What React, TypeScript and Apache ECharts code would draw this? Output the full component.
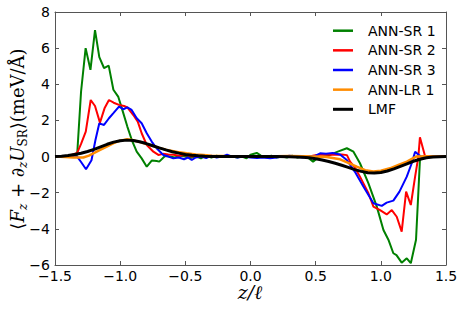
import React, { useEffect, useRef } from "react";
import * as echarts from "echarts";

const seriesNames = ["ANN-SR 1", "ANN-SR 2", "ANN-SR 3", "ANN-LR 1", "LMF"];
const seriesColors = ["#008000", "#ff0000", "#0000ff", "#ff8c00", "#000000"];
const xTicks = [-1.5, -1.0, -0.5, 0.0, 0.5, 1.0, 1.5];
const yTicks = [-6, -4, -2, 0, 2, 4, 6, 8];

const annSr1: [number, number][] = [
  [-1.5, 0], [-1.45, 0.0], [-1.4, 0.02], [-1.36, 0.03], [-1.33, 0.1], [-1.3, 3.6], [-1.265, 6.0],
  [-1.228, 4.8], [-1.193, 7.0], [-1.16, 5.5], [-1.124, 4.9], [-1.088, 5.03], [-1.052, 3.7],
  [-1.014, 3.3], [-0.98, 2.5], [-0.945, 1.66], [-0.91, 0.9], [-0.873, 0.27], [-0.835, -0.1],
  [-0.796, -0.56], [-0.758, -0.22], [-0.72, -0.25], [-0.7, -0.28], [-0.656, 0.03], [-0.62, 0.0],
  [-0.58, -0.05], [-0.54, 0.05], [-0.5, 0.0], [-0.46, -0.08], [-0.42, 0.02], [-0.38, -0.1],
  [-0.34, 0.08], [-0.3, -0.05], [-0.26, 0.05], [-0.22, -0.03], [-0.18, 0.05], [-0.14, 0.0],
  [-0.1, -0.05], [-0.07, 0.02], [-0.03, -0.1], [0.0, 0.1], [0.048, 0.2], [0.08, 0.05],
  [0.12, -0.05], [0.16, 0.05], [0.2, -0.05], [0.24, 0.0], [0.28, -0.05], [0.32, 0.05],
  [0.36, -0.05], [0.4, 0.0], [0.44, -0.05], [0.48, -0.28], [0.52, -0.05], [0.56, 0.0],
  [0.6, 0.05], [0.636, 0.18], [0.68, 0.3], [0.739, 0.46], [0.79, 0.27], [0.84, -0.37],
  [0.905, -1.48], [0.969, -2.77], [1.02, -4.06], [1.058, -4.6], [1.096, -5.35], [1.12, -5.45],
  [1.16, -5.87], [1.199, -5.63], [1.23, -5.9], [1.27, -4.6], [1.3, -0.19], [1.327, 0],
  [1.4, 0], [1.5, 0],
];

const annSr2: [number, number][] = [
  [-1.5, 0], [-1.4, 0.02], [-1.33, 0.2], [-1.3, 0.7], [-1.264, 1.38], [-1.226, 3.13],
  [-1.193, 2.8], [-1.155, 1.88], [-1.12, 2.67], [-1.086, 3.13], [-1.05, 2.98], [-1.009, 2.86],
  [-0.97, 2.8], [-0.945, 2.72], [-0.899, 2.3], [-0.865, 1.93], [-0.835, 1.29], [-0.796, 0.64],
  [-0.745, 0.27], [-0.707, 0.09], [-0.67, 0.15], [-0.63, 0.12], [-0.59, 0.1], [-0.55, 0.05],
  [-0.5, 0.08], [-0.45, 0.0], [-0.4, 0.05], [-0.35, -0.02], [-0.3, 0.03], [-0.25, 0.0],
  [-0.2, 0.02], [-0.15, -0.02], [-0.1, 0.0], [-0.05, -0.02], [0, 0.0], [0.05, 0.02],
  [0.1, -0.02], [0.15, 0.0], [0.2, 0.02], [0.25, 0.0], [0.3, -0.02], [0.35, 0.0], [0.4, -0.02],
  [0.45, 0.0], [0.508, 0.09], [0.55, 0.1], [0.6, 0.12], [0.65, 0.1], [0.7, 0.12], [0.74, 0.08],
  [0.764, -0.28], [0.8, -0.6], [0.84, -1.11], [0.905, -2.03], [0.943, -2.77], [0.994, -2.96],
  [1.045, -3.2], [1.084, -2.96], [1.122, -3.33], [1.16, -4.15], [1.194, -1.94], [1.23, -2.68],
  [1.263, -1.11], [1.288, 0.0], [1.3, 1.07], [1.34, 0], [1.4, 0], [1.5, 0],
];

const annSr3: [number, number][] = [
  [-1.5, 0], [-1.4, 0.0], [-1.33, 0.0], [-1.3, -0.3], [-1.262, -0.7], [-1.22, -0.2],
  [-1.19, 0.9], [-1.16, 1.84], [-1.124, 1.75], [-1.086, 2.12], [-1.052, 2.4], [-1.009, 2.76],
  [-0.976, 2.62], [-0.945, 2.72], [-0.912, 2.58], [-0.873, 2.12], [-0.835, 1.84],
  [-0.796, 1.29], [-0.758, 0.83], [-0.72, 0.46], [-0.669, 0.09], [-0.63, 0.0], [-0.592, -0.1],
  [-0.55, -0.05], [-0.51, -0.15], [-0.48, -0.05], [-0.451, -0.19], [-0.42, -0.05],
  [-0.38, 0.0], [-0.34, -0.08], [-0.3, 0.05], [-0.26, -0.05], [-0.22, 0.0], [-0.18, 0.1],
  [-0.14, 0.0], [-0.1, -0.05], [-0.05, 0.0], [0, -0.05], [0.05, -0.08], [0.1, -0.05],
  [0.15, -0.1], [0.2, -0.05], [0.25, 0.0], [0.3, 0.05], [0.35, 0.0], [0.4, -0.05], [0.45, 0.0],
  [0.5, 0.05], [0.534, 0.18], [0.58, 0.15], [0.63, 0.2], [0.687, 0.12], [0.739, -0.19],
  [0.8, -0.83], [0.866, -1.66], [0.943, -2.58], [1.007, -2.73], [1.045, -2.55], [1.096, -2.44],
  [1.143, -1.94], [1.199, -1.11], [1.237, -0.37], [1.263, 0.27], [1.29, 0.1], [1.31, 0],
  [1.4, 0], [1.5, 0],
];

const annLr1: [number, number][] = [
  [-1.5, 0], [-1.42, -0.03], [-1.36, -0.05], [-1.283, -0.05], [-1.24, 0.05], [-1.206, 0.18],
  [-1.15, 0.38], [-1.103, 0.55], [-1.05, 0.75], [-1.0, 0.88], [-0.945, 0.96], [-0.9, 0.9],
  [-0.85, 0.8], [-0.771, 0.64], [-0.7, 0.48], [-0.643, 0.37], [-0.56, 0.25], [-0.49, 0.18],
  [-0.42, 0.12], [-0.36, 0.09], [-0.3, 0.05], [-0.2, 0.03], [-0.1, 0.02], [0, 0], [0.1, 0.0],
  [0.2, 0.02], [0.3, 0.03], [0.4, 0.02], [0.5, 0.0], [0.585, -0.02], [0.687, -0.15],
  [0.75, -0.35], [0.815, -0.56], [0.88, -0.75], [0.943, -0.83], [1.0, -0.78], [1.07, -0.65],
  [1.14, -0.45], [1.2, -0.28], [1.27, 0.0], [1.35, 0.02], [1.42, 0], [1.5, 0],
];

const lmf: [number, number][] = [
  [-1.5, 0], [-1.45, 0.02], [-1.4, 0.06], [-1.35, 0.12], [-1.3, 0.18], [-1.25, 0.28],
  [-1.2, 0.4], [-1.15, 0.54], [-1.1, 0.68], [-1.05, 0.8], [-1.0, 0.88], [-0.95, 0.91],
  [-0.9, 0.89], [-0.85, 0.82], [-0.8, 0.72], [-0.75, 0.6], [-0.7, 0.48], [-0.65, 0.37],
  [-0.6, 0.27], [-0.55, 0.19], [-0.5, 0.12], [-0.45, 0.07], [-0.4, 0.04], [-0.35, 0.02],
  [-0.3, 0.01], [-0.2, 0], [0, 0], [0.2, 0], [0.3, -0.01], [0.35, -0.02], [0.4, -0.04],
  [0.45, -0.07], [0.5, -0.12], [0.55, -0.19], [0.6, -0.27], [0.65, -0.37], [0.7, -0.48],
  [0.75, -0.6], [0.8, -0.72], [0.85, -0.82], [0.9, -0.89], [0.95, -0.91], [1.0, -0.88],
  [1.05, -0.8], [1.1, -0.68], [1.15, -0.54], [1.2, -0.4], [1.25, -0.26], [1.3, -0.15],
  [1.35, -0.07], [1.4, -0.03], [1.45, -0.01], [1.5, 0],
];

const allData = [annSr1, annSr2, annSr3, annLr1, lmf];
const lineWidths = [2, 2, 2, 2.5, 3];

const fmtX = (v: number) => (v < 0 ? "\u2212" + Math.abs(v).toFixed(1) : v.toFixed(1));
const fmtY = (v: number) => (v < 0 ? "\u2212" + Math.abs(v) : String(v));

export default function App() {
  const ref = useRef<HTMLDivElement>(null);
  useEffect(() => {
    if (!ref.current) return;
    const chart = echarts.init(ref.current, null, { renderer: "svg" });
    const axisLine = { show: true, onZero: false, lineStyle: { color: "#555", width: 1 } };
    const tickStyle = { show: true, inside: true, length: 4, lineStyle: { color: "#555" } };
    const labelFont = { fontFamily: "DejaVu Sans", fontSize: 14, color: "#000" };
    const serif = "DejaVu Serif";

    // legend drawn as graphic (no frame, matplotlib style)
    const legendTop = 30.7;
    const legendStep = 19.65;
    const legendItems: any[] = [];
    seriesNames.forEach((n, i) => {
      const y = legendTop + i * legendStep;
      legendItems.push({
        type: "line",
        shape: { x1: 333, y1: y, x2: 353, y2: y },
        style: { stroke: seriesColors[i], lineWidth: i === 4 ? 3 : 2.5 },
        z: 100,
      });
      legendItems.push({
        type: "text",
        x: 368,
        y,
        style: {
          text: n,
          fontFamily: "DejaVu Sans",
          fontSize: 14,
          fill: "#000",
          align: "left",
          verticalAlign: "middle",
        },
        z: 100,
      });
    });

    chart.setOption({
      animation: false,
      backgroundColor: "#fff",
      grid: { left: 55, right: 17, top: 12, bottom: 44, containLabel: false },
      xAxis: [
        {
          type: "value", min: xTicks[0], max: xTicks[xTicks.length - 1], interval: 0.5,
          axisLine, axisTick: tickStyle, splitLine: { show: false },
          axisLabel: { ...labelFont, margin: 4, formatter: fmtX },
        },
        {
          type: "value", position: "top", min: xTicks[0], max: xTicks[xTicks.length - 1], interval: 0.5,
          axisLine, axisTick: tickStyle, splitLine: { show: false }, axisLabel: { show: false },
        },
      ],
      yAxis: [
        {
          type: "value", min: yTicks[0], max: yTicks[yTicks.length - 1], interval: 2,
          axisLine, axisTick: tickStyle, splitLine: { show: false },
          axisLabel: { ...labelFont, margin: 5, formatter: fmtY },
        },
        {
          type: "value", position: "right", min: yTicks[0], max: yTicks[yTicks.length - 1], interval: 2,
          axisLine, axisTick: tickStyle, splitLine: { show: false }, axisLabel: { show: false },
        },
      ],
      series: seriesNames.map((n, i) => ({
        name: n,
        type: "line",
        data: allData[i],
        showSymbol: false,
        symbol: "none",
        color: seriesColors[i],
        lineStyle: { color: seriesColors[i], width: lineWidths[i] },
        z: 2 + i,
      })),
      graphic: [
        ...legendItems,
        {
          type: "text",
          x: 17,
          y: 139,
          rotation: Math.PI / 2,
          style: {
            text: "{n|\u27e8}{i|F}{s|z}{n| + \u2202}{s|z}{i|U}{r|SR}{n|\u27e9(meV/\u00c5)}",
            align: "center",
            verticalAlign: "middle",
            rich: {
              n: { fontFamily: serif, fontSize: 18, lineHeight: 24, verticalAlign: "middle", fill: "#000" },
              i: { fontFamily: serif, fontStyle: "italic", fontSize: 18, lineHeight: 24, verticalAlign: "middle", fill: "#000" },
              s: { fontFamily: serif, fontStyle: "italic", fontSize: 12, lineHeight: 12, verticalAlign: "bottom", fill: "#000" },
              r: { fontFamily: serif, fontSize: 12, lineHeight: 12, verticalAlign: "bottom", fill: "#000" },
            },
          },
        },
        {
          type: "text",
          x: 250,
          y: 292,
          style: {
            text: "z/\u2113",
            fontFamily: serif,
            fontStyle: "italic",
            fontSize: 19,
            align: "center",
            verticalAlign: "middle",
            fill: "#000",
          },
        },
      ],
    });
    return () => chart.dispose();
  }, []);
  return <div ref={ref} style={{ position: "fixed", left: 0, top: 0, width: 463, height: 309 }} />;
}
